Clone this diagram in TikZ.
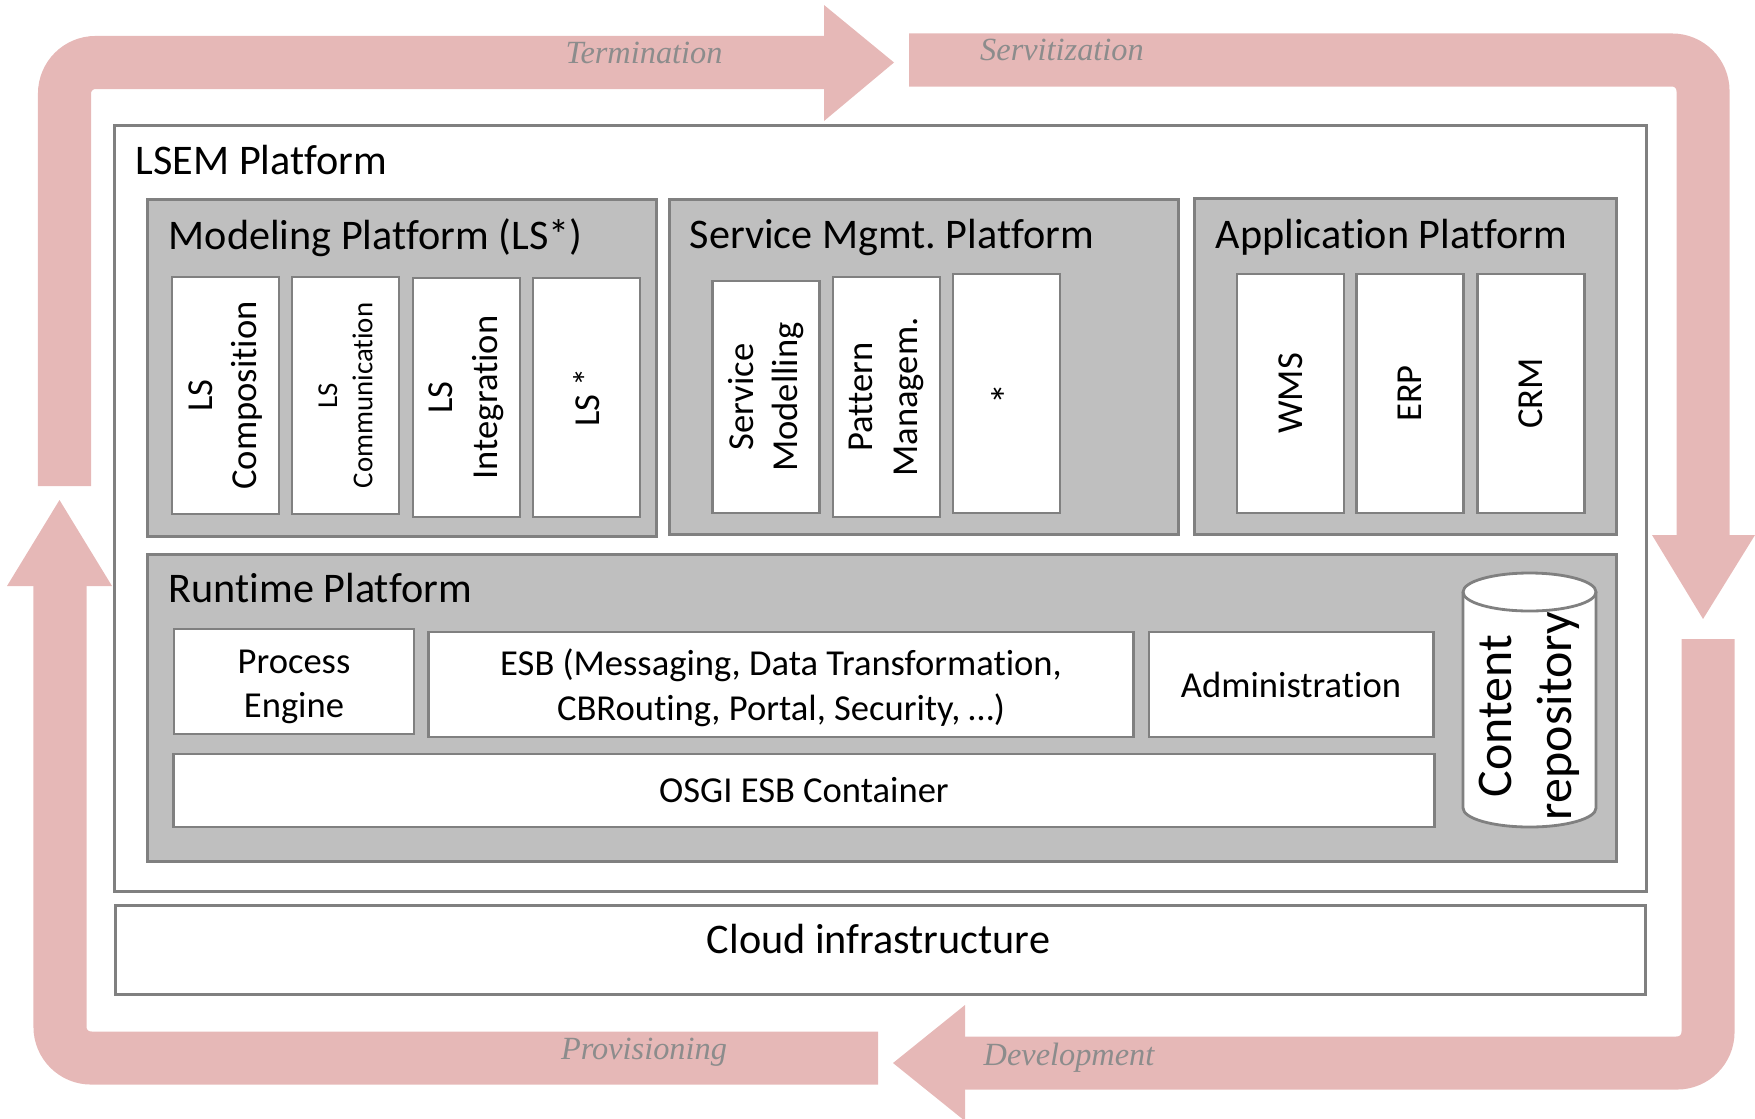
\documentclass[tikz,border=0pt]{standalone}
\usepackage{fontspec}
\setmainfont{Carlito}[Ligatures={NoCommon,NoContextual,NoRare},RawFeature={-calt}]
\newfontfamily\cyclefont{Liberation Serif}
\usetikzlibrary{positioning}
\definecolor{cyclepink}{RGB}{230,184,183}
\definecolor{boxline}{RGB}{128,128,128}
\definecolor{platgrey}{RGB}{191,191,191}
\definecolor{labelgrey}{RGB}{140,140,140}
\frenchspacing
\tikzset{
  cycleband/.style={draw=cyclepink, line width=0.53cm, rounded corners=0.31cm},
  cyclehead/.style={fill=cyclepink},
  cyclelabel/.style={anchor=base, inner sep=0pt, text=labelgrey,
    font=\cyclefont\itshape\fontsize{9.2}{11}\selectfont},
  layer/.style={draw=boxline, line width=0.8pt, fill=white,
    anchor=north west, inner sep=0pt},
  platform/.style={layer, fill=platgrey},
  ptitle/.style={anchor=base west, inner sep=0pt,
    font=\fontsize{12}{14.6}\selectfont},
  vbox/.style={draw=boxline, line width=0.8pt, fill=white, rotate=90,
    minimum height=1.07cm, align=center, inner sep=0pt,
    font=\fontsize{10.4}{12.7}\selectfont},
  hbox/.style={draw=boxline, line width=0.8pt, fill=white,
    align=center, inner sep=0pt, font=\fontsize{10.4}{12.7}\selectfont},
}
\begin{document}
\begin{tikzpicture}[x=0.01cm, y=-0.01cm]
  \useasboundingbox (0,0) rectangle (1755,1118);
  % the life cycle round the platform
  \draw[cycleband] (64.5,486) -- (64.5,62.5) -- (824,62.5);
  \fill[cyclehead] (824,5) -- (894,62.5) -- (824,121) -- cycle;
  \draw[cycleband] (909,60) -- (1703,60) -- (1703,535);
  \fill[cyclehead] (1652,535) -- (1755,535) -- (1703,619) -- cycle;
  \draw[cycleband] (1708,639) -- (1708,1063) -- (965,1063);
  \fill[cyclehead] (965,1005) -- (893,1063) -- (965,1121) -- cycle;
  \draw[cycleband] (878,1058) -- (60,1058) -- (60,586);
  \fill[cyclehead] (7,586) -- (112,586) -- (59.5,500) -- cycle;
  \node[cyclelabel] (term) at (644,64) {Termination};
  \node[cyclelabel] (servit) at (1062,60) {Servitization};
  \node[cyclelabel] (devel) at (1069,1065) {Development};
  \node[cyclelabel] (prov) at (644,1059) {Provisioning};

  % LSEM platform and cloud
  \node[layer, minimum width=15.31cm, minimum height=7.66cm] (lsem) at (113,124) {};
  \node[ptitle] (lsemtitle) at (135,174) {LSEM Platform};
  \node[layer, minimum width=15.29cm, minimum height=0.89cm] (cloud) at (114,904) {};
  \node[font=\fontsize{12}{14.6}\selectfont] (cloudtext) at (878.5,939) {Cloud infrastructure};

  % modeling platform
  \node[platform, minimum width=5.09cm, minimum height=3.37cm] (modeling) at (146,198) {};
  \node[ptitle] (modtitle) at (168,249) {Modeling Platform (LS*)};
  \node[vbox, minimum width=2.37cm] (lscomp) at (225.5,395.5) {LS\\Composition};
  \node[vbox, minimum width=2.37cm, font=\fontsize{8.2}{10}\selectfont] (lscomm) at (345.5,395.5) {LS\\Communication};
  \node[vbox, minimum width=2.39cm] (lsint) at (466.5,397.5) {LS\\Integration};
  \node[vbox, minimum width=2.39cm] (lsstar) at (586.5,397.5) {LS *};

  % service management platform
  \node[platform, minimum width=5.09cm, minimum height=3.35cm] (service) at (668,198) {};
  \node[ptitle] (servtitle) at (689,248) {Service Mgmt. Platform};
  \node[vbox, minimum width=2.32cm] (servmod) at (766,397) {Service\\Modelling};
  \node[vbox, minimum width=2.40cm] (pattern) at (886.5,397) {Pattern\\Managem.};
  \node[vbox, minimum width=2.39cm, font=\fontsize{12}{14}\selectfont] (servstar) at (1006.5,393.5) {*};

  % application platform
  \node[platform, minimum width=4.22cm, minimum height=3.36cm] (application) at (1193,197) {};
  \node[ptitle] (apptitle) at (1215,248) {Application Platform};
  \node[vbox, minimum width=2.39cm] (wms) at (1290.5,393.5) {WMS};
  \node[vbox, minimum width=2.39cm] (erp) at (1410,393.5) {ERP};
  \node[vbox, minimum width=2.39cm] (crm) at (1531,393.5) {CRM};

  % runtime platform
  \node[platform, minimum width=14.68cm, minimum height=3.07cm] (runtime) at (146,553) {};
  \node[ptitle] (runtitle) at (168,602) {Runtime Platform};
  \node[hbox, minimum width=2.40cm, minimum height=1.05cm] (engine) at (294,681.5) {};
  \node[align=center, inner sep=0pt, font=\fontsize{10.4}{12.7}\selectfont] (enginetext) at (294,687) {Process\\Engine};
  \node[hbox, minimum width=7.04cm, minimum height=1.05cm] (esb) at (781,684.5) {};
  \node[align=center, inner sep=0pt, font=\fontsize{10.4}{12.7}\selectfont] (esbtext) at (781,688) {ESB (Messaging, Data Transformation,\\CBRouting, Portal, Security, \dots)};
  \node[hbox, minimum width=2.84cm, minimum height=1.05cm] (admin) at (1291,684.5) {Administration};
  \node[hbox, minimum width=12.60cm, minimum height=0.73cm] (osgi) at (804,790.5) {OSGI ESB Container};

  % content repository
  \fill[white] (1463,592) -- (1463,808) arc[start angle=180, end angle=0, x radius=66.5, y radius=19]
    -- (1596,592) arc[start angle=0, end angle=-180, x radius=66.5, y radius=19] -- cycle;
  \draw[boxline, line width=0.8pt] (1463,592) -- (1463,808)
    arc[start angle=180, end angle=0, x radius=66.5, y radius=19] -- (1596,592);
  \draw[boxline, line width=0.8pt] (1529.5,592) ellipse [x radius=66.5, y radius=19];
  \node[rotate=90, align=center, inner sep=0pt, font=\fontsize{14.2}{17}\selectfont] (repo) at (1529,716) {Content\\repository};
\end{tikzpicture}
\end{document}
